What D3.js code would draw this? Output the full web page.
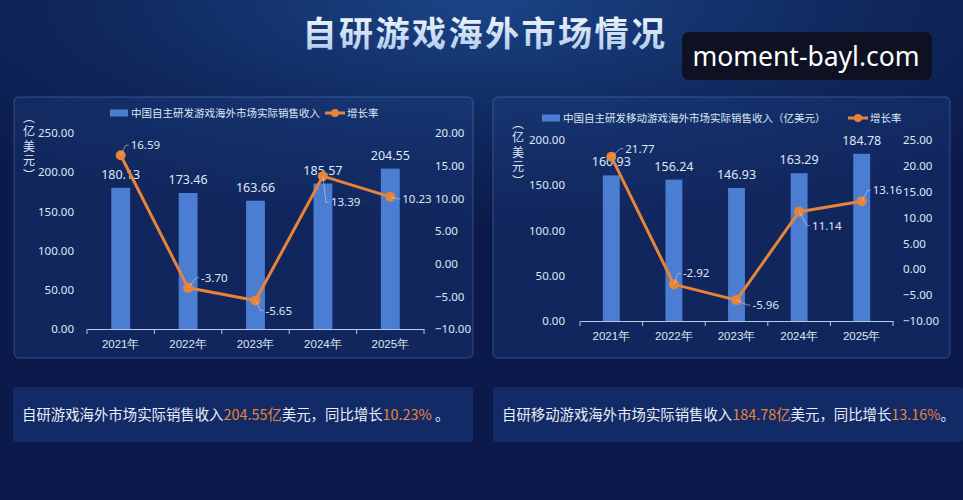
<!DOCTYPE html>
<html>
<head>
<meta charset="utf-8">
<script src="https://cdn.jsdelivr.net/npm/d3@7"></script>
<style>
    html, body { margin: 0; padding: 0; }
    body {
        width: 963px; height: 500px; overflow: hidden;
        background: radial-gradient(ellipse 70% 45% at 50% 0%, #1b4486 0%, #10295f 55%, #0b1a4a 100%);
        background-color: #0b1a4a;
        font-family: "Noto Sans CJK SC", "Noto Sans", sans-serif;
    }
    svg { display: block; }
</style>
</head>
<body>
<div id="chart-area"></div>
<script>
// data
const years = ["2021年", "2022年", "2023年", "2024年", "2025年"];
const gameRevenue = [180.13, 173.46, 163.66, 185.57, 204.55];
const gameGrowth = [16.59, -3.70, -5.65, 13.39, 10.23];
const mobileRevenue = [160.93, 156.24, 146.93, 163.29, 184.78];
const mobileGrowth = [21.77, -2.92, -5.96, 11.14, 13.16];
const gameRevenueTicks = [0, 50, 100, 150, 200, 250];
const gameGrowthTicks = [-10, -5, 0, 5, 10, 15, 20];
const mobileRevenueTicks = [0, 50, 100, 150, 200];
const mobileGrowthTicks = [-10, -5, 0, 5, 10, 15, 20, 25];

const BAR = "#4b7dd3";
const ORANGE = "#e8843a";
const TEXT = "#dfe7f5";

let svg = d3.select("#chart-area")
    .append("svg")
    .attr("width", 963)
    .attr("height", 500);

let defs = svg.append("defs");
let tg = defs.append("linearGradient")
    .attr("id", "titleGrad")
    .attr("x1", 0).attr("y1", 0).attr("x2", 0).attr("y2", 1);
tg.append("stop").attr("offset", "0%").attr("stop-color", "#ffffff");
tg.append("stop").attr("offset", "100%").attr("stop-color", "#a9c4ea");

// title
svg.append("text")
    .attr("x", 485)
    .attr("y", 46)
    .attr("text-anchor", "middle")
    .attr("fill", "url(#titleGrad)")
    .style("font-size", "34px")
    .style("font-weight", "bold")
    .style("letter-spacing", "2.5px")
    .text("自研游戏海外市场情况");

// watermark
svg.append("rect")
    .attr("x", 682).attr("y", 32)
    .attr("width", 250).attr("height", 48)
    .attr("rx", 7)
    .attr("fill", "#0d1121");
svg.append("text")
    .attr("x", 806).attr("y", 66)
    .attr("text-anchor", "middle")
    .attr("fill", "#ffffff")
    .style("font-family", "'Noto Sans', sans-serif")
    .style("font-size", "26.5px")
    .text("moment-bayl.com");

function drawPanel(cfg) {
    let g = svg.append("g");

    g.append("rect")
        .attr("x", cfg.box[0]).attr("y", cfg.box[1])
        .attr("width", cfg.box[2]).attr("height", cfg.box[3])
        .attr("rx", 5)
        .attr("fill", "rgba(40,80,160,0.22)")
        .attr("stroke", "rgba(120,160,230,0.35)")
        .attr("stroke-width", 1);

    let x = d3.scaleBand()
        .domain(cfg.categories)
        .range([cfg.plot.left, cfg.plot.right])
        .padding(0);

    let yL = d3.scaleLinear()
        .domain(d3.extent(cfg.barTicks))
        .range([cfg.plot.bottom, cfg.plot.top]);

    let yR = d3.scaleLinear()
        .domain(d3.extent(cfg.lineTicks))
        .range([cfg.plot.bottom, cfg.plot.top]);

    let rows = cfg.categories.map((c, i) => ({ cat: c, bar: cfg.bars[i], rate: cfg.rates[i], off: cfg.labelOffsets[i] }));

    // left axis
    let axL = g.append("g")
        .attr("transform", `translate(${cfg.plot.left},0)`)
        .call(d3.axisLeft(yL).tickValues(cfg.barTicks).tickFormat(d3.format(".2f")).tickSize(0).tickPadding(cfg.plot.left - cfg.leftLabelX));
    axL.select(".domain").remove();
    axL.selectAll("text").attr("fill", TEXT).style("font-size", "11.5px").style("font-family", "'Noto Sans', sans-serif");

    // right axis
    let axR = g.append("g")
        .attr("transform", `translate(${cfg.plot.right},0)`)
        .call(d3.axisRight(yR).tickValues(cfg.lineTicks).tickFormat(d3.format(".2f")).tickSize(0).tickPadding(cfg.rightLabelX - cfg.plot.right));
    axR.select(".domain").remove();
    axR.selectAll("text").attr("fill", TEXT).style("font-size", "11.5px").style("font-family", "'Noto Sans', sans-serif");

    // x axis
    let axX = g.append("g")
        .attr("transform", `translate(0,${cfg.plot.bottom})`)
        .call(d3.axisBottom(x).tickSize(0).tickPadding(cfg.xLabelPad));
    axX.select(".domain").attr("stroke", "#b9c8e6").attr("stroke-width", 1.2);
    axX.selectAll("text").attr("fill", TEXT).style("font-size", "11.5px");
    // tick marks at band boundaries
    let bounds = cfg.categories.map(c => x(c)).concat([cfg.plot.right]);
    axX.selectAll(".bound")
        .data(bounds)
        .enter()
        .append("line")
        .attr("x1", d => d).attr("x2", d => d)
        .attr("y1", 0).attr("y2", 5)
        .attr("stroke", "#b9c8e6");

    // bars
    let bw = x.bandwidth() * cfg.barRatio;
    g.selectAll(".bar")
        .data(rows)
        .enter()
        .append("rect")
        .attr("class", "bar")
        .attr("x", d => x(d.cat) + x.bandwidth() / 2 - bw / 2)
        .attr("y", d => yL(d.bar))
        .attr("width", bw)
        .attr("height", d => cfg.plot.bottom - yL(d.bar))
        .attr("fill", BAR);

    g.selectAll(".bar-text")
        .data(rows)
        .enter()
        .append("text")
        .attr("class", "bar-text")
        .attr("x", d => x(d.cat) + x.bandwidth() / 2)
        .attr("y", d => yL(d.bar) - 9)
        .attr("text-anchor", "middle")
        .attr("fill", TEXT)
        .style("font-size", "12.5px")
        .style("font-family", "'Noto Sans', sans-serif")
        .text(d => d.bar.toFixed(2));

    // growth line
    let line = d3.line()
        .x(d => x(d.cat) + x.bandwidth() / 2)
        .y(d => yR(d.rate));

    g.append("path")
        .datum(rows)
        .attr("d", line)
        .attr("fill", "none")
        .attr("stroke", ORANGE)
        .attr("stroke-width", 3)
        .attr("stroke-linejoin", "round");

    g.selectAll(".dot")
        .data(rows)
        .enter()
        .append("circle")
        .attr("cx", d => x(d.cat) + x.bandwidth() / 2)
        .attr("cy", d => yR(d.rate))
        .attr("r", 5)
        .attr("fill", ORANGE);

    // leader lines + labels
    g.selectAll(".leader")
        .data(rows)
        .enter()
        .append("polyline")
        .attr("points", d => {
            let px = x(d.cat) + x.bandwidth() / 2, py = yR(d.rate);
            let tx = px + d.off[0], ty = py + d.off[1];
            return `${px},${py} ${tx - 5},${ty} ${tx - 2},${ty}`;
        })
        .attr("fill", "none")
        .attr("stroke", "rgba(200,212,235,0.75)")
        .attr("stroke-width", 0.8);

    g.selectAll(".rate-text")
        .data(rows)
        .enter()
        .append("text")
        .attr("x", d => x(d.cat) + x.bandwidth() / 2 + d.off[0])
        .attr("y", d => yR(d.rate) + d.off[1])
        .attr("dy", "0.35em")
        .attr("fill", TEXT)
        .style("font-size", "11.5px")
        .style("font-family", "'Noto Sans', sans-serif")
        .text(d => d.rate.toFixed(2));

    // vertical unit label
    g.append("text")
        .attr("x", cfg.unit[0])
        .attr("y", cfg.unit[1])
        .attr("fill", TEXT)
        .style("writing-mode", "vertical-rl")
        .style("text-orientation", "upright")
        .style("font-size", "12px")
        .style("letter-spacing", "2.5px")
        .text("（亿美元）");

    // legend
    let lg = g.append("g");
    lg.append("rect")
        .attr("x", cfg.legend[0]).attr("y", cfg.legend[1] - 3.5)
        .attr("width", 18).attr("height", 7)
        .attr("fill", BAR);
    lg.append("text")
        .attr("x", cfg.legend[0] + 21).attr("y", cfg.legend[1])
        .attr("dy", "0.35em")
        .attr("fill", TEXT)
        .style("font-size", "10.5px")
        .text(cfg.barName);
    lg.append("line")
        .attr("x1", cfg.legend[2]).attr("x2", cfg.legend[2] + 20)
        .attr("y1", cfg.legend[1]).attr("y2", cfg.legend[1])
        .attr("stroke", ORANGE).attr("stroke-width", 3);
    lg.append("circle")
        .attr("cx", cfg.legend[2] + 10).attr("cy", cfg.legend[1])
        .attr("r", 4).attr("fill", ORANGE);
    lg.append("text")
        .attr("x", cfg.legend[2] + 22).attr("y", cfg.legend[1])
        .attr("dy", "0.35em")
        .attr("fill", TEXT)
        .style("font-size", "10.5px")
        .text("增长率");

    // summary box
    let sb = svg.append("g");
    sb.append("rect")
        .attr("x", cfg.summaryBox[0]).attr("y", cfg.summaryBox[1])
        .attr("width", cfg.summaryBox[2]).attr("height", cfg.summaryBox[3])
        .attr("rx", 3)
        .attr("fill", "rgba(40,90,180,0.28)");
    let st = sb.append("text")
        .attr("x", cfg.summaryBox[0] + 9)
        .attr("y", cfg.summaryBox[1] + 28)
        .attr("dy", "0.35em")
        .attr("fill", "#e8eef8")
        .style("font-size", "14.4px");
    st.append("tspan").text(cfg.summary[0]);
    st.append("tspan").attr("fill", ORANGE).text(cfg.bars[cfg.bars.length - 1].toFixed(2) + "亿");
    st.append("tspan").text("美元，同比增长");
    st.append("tspan").attr("fill", ORANGE).text(cfg.rates[cfg.rates.length - 1].toFixed(2) + "%");
    st.append("tspan").text(cfg.summary[1]);
}

drawPanel({
    categories: years,
    bars: gameRevenue,
    rates: gameGrowth,
    barTicks: gameRevenueTicks,
    lineTicks: gameGrowthTicks,
    barName: "中国自主研发游戏海外市场实际销售收入",
    box: [14, 97, 459, 261],
    plot: { left: 87, right: 424, top: 133, bottom: 329 },
    leftLabelX: 74,
    rightLabelX: 435,
    xLabelPad: 11,
    barRatio: 0.28,
    unit: [29, 111],
    legend: [110, 113, 325],
    labelOffsets: [[10, -10], [13, -10], [10, 10], [8, 26], [12, 2]],
    summaryBox: [13, 387, 460, 55],
    summary: ["自研游戏海外市场实际销售收入", " 。"]
});

drawPanel({
    categories: years,
    bars: mobileRevenue,
    rates: mobileGrowth,
    barTicks: mobileRevenueTicks,
    lineTicks: mobileGrowthTicks,
    barName: "中国自主研发移动游戏海外市场实际销售收入（亿美元）",
    box: [493, 97, 457, 261],
    plot: { left: 580, right: 893, top: 140, bottom: 321 },
    leftLabelX: 565,
    rightLabelX: 903,
    xLabelPad: 11,
    barRatio: 0.27,
    unit: [518, 117],
    legend: [542, 118, 848],
    labelOffsets: [[14, -8], [9, -11], [16, 5], [13, 14], [11, -11]],
    summaryBox: [493, 387, 470, 55],
    summary: ["自研移动游戏海外市场实际销售收入", "。"]
});
</script>
</body>
</html>
